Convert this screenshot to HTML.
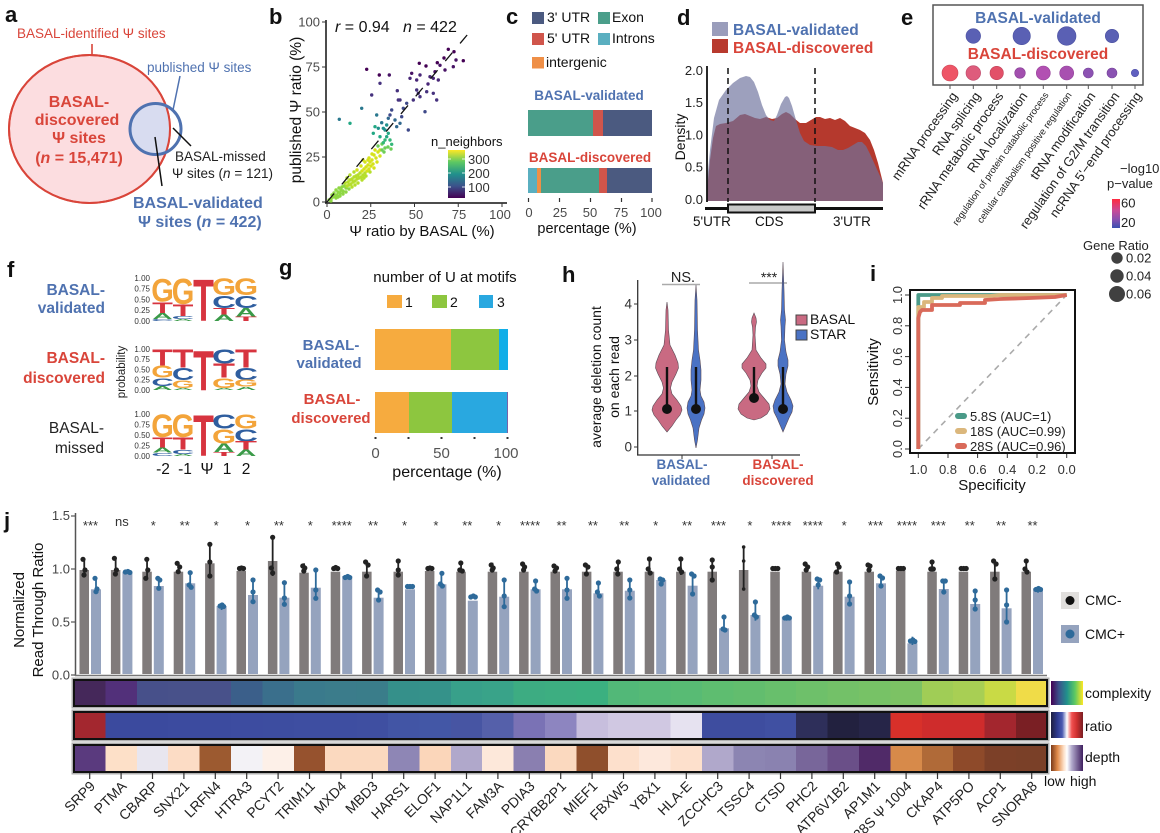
<!DOCTYPE html>
<html><head><meta charset="utf-8">
<style>
html,body{margin:0;padding:0;background:#fff;}
svg{display:block;font-family:"Liberation Sans",Arial,sans-serif;}
.L{font-size:100px;font-weight:bold;text-anchor:middle;}
.cG{fill:#f3a43a}.cT{fill:#d7343f}.cC{fill:#2f5e9f}.cA{fill:#3a9a48}
.pl{font-size:22px;font-weight:bold;fill:#111}
.tk{font-size:13px;fill:#4a4a4a}
.red{fill:#d9453a}.blu{fill:#4f72b0}
.gb{fill:#807b7b}.bb{fill:#95a3be}
.eg{stroke:#222;stroke-width:1.8}.ebl{stroke:#2e6a9a;stroke-width:1.8}
.dg{fill:#222}.db{fill:#2e6a9a}
.sig{font-size:13px;fill:#333;text-anchor:middle}
.gn{font-size:14px;fill:#222;text-anchor:end}
.lt{font-size:8px;fill:#333;text-anchor:end}
</style></head><body>
<svg width="1160" height="833" viewBox="0 0 1160 833" xmlns="http://www.w3.org/2000/svg">
<defs>
<clipPath id="redclip"><ellipse cx="89.5" cy="129" rx="80.5" ry="74"/></clipPath>
<linearGradient id="vir" x1="0" y1="1" x2="0" y2="0">
<stop offset="0" stop-color="#440154"/><stop offset="0.25" stop-color="#3b528b"/><stop offset="0.5" stop-color="#21918c"/><stop offset="0.75" stop-color="#5ec962"/><stop offset="1" stop-color="#fde725"/></linearGradient>
<linearGradient id="virh" x1="0" y1="0" x2="1" y2="0">
<stop offset="0" stop-color="#440154"/><stop offset="0.25" stop-color="#3b528b"/><stop offset="0.5" stop-color="#21918c"/><stop offset="0.75" stop-color="#5ec962"/><stop offset="1" stop-color="#fde725"/></linearGradient>
<linearGradient id="pv" x1="0" y1="0" x2="0" y2="1">
<stop offset="0" stop-color="#ff2a40"/><stop offset="0.4" stop-color="#c84a98"/><stop offset="0.7" stop-color="#8a50b0"/><stop offset="1" stop-color="#3a50b0"/></linearGradient>
<linearGradient id="ratg" x1="0" y1="0" x2="1" y2="0">
<stop offset="0" stop-color="#1f1f40"/><stop offset="0.2" stop-color="#2e3a90"/><stop offset="0.35" stop-color="#4a5ab0"/><stop offset="0.5" stop-color="#ffffff"/><stop offset="0.65" stop-color="#f05050"/><stop offset="0.8" stop-color="#d03030"/><stop offset="1" stop-color="#7a1f24"/></linearGradient>
<linearGradient id="depg" x1="0" y1="0" x2="1" y2="0">
<stop offset="0" stop-color="#7a3a1a"/><stop offset="0.2" stop-color="#e08a4a"/><stop offset="0.4" stop-color="#fde0c8"/><stop offset="0.5" stop-color="#ffffff"/><stop offset="0.65" stop-color="#b0a8cb"/><stop offset="1" stop-color="#3f1f5f"/></linearGradient>
</defs>
<rect width="1160" height="833" fill="#fff"/>

<!-- ================= PANEL A ================= -->
<text class="pl" x="5" y="22">a</text>
<text x="17" y="38" font-size="13.5" class="red">BASAL-identified Ψ sites</text>
<line x1="92" y1="44" x2="92" y2="55" stroke="#d9453a" stroke-width="1.6"/>
<ellipse cx="89.5" cy="129" rx="80.5" ry="74" fill="#fcdde0" stroke="#d9453a" stroke-width="2"/>
<circle cx="155.5" cy="129" r="25.5" fill="#d8dcf0" clip-path="url(#redclip)"/>
<ellipse cx="89.5" cy="129" rx="80.5" ry="74" fill="none" stroke="#d9453a" stroke-width="2"/>
<circle cx="155.5" cy="129" r="25.5" fill="none" stroke="#4f72b0" stroke-width="3"/>
<text x="147" y="72" font-size="13.5" class="blu">published Ψ sites</text>
<line x1="180" y1="76" x2="173" y2="110" stroke="#4f72b0" stroke-width="1.5"/>
<g font-size="16" font-weight="bold" class="red" text-anchor="middle">
<text x="79" y="107">BASAL-</text>
<text x="77" y="125">discovered</text>
<text x="79" y="143">Ψ sites</text>
<text x="79" y="163">(<tspan font-style="italic">n</tspan> = 15,471)</text>
</g>
<line x1="173" y1="128" x2="191" y2="146" stroke="#111" stroke-width="1.5"/>
<text x="175" y="161" font-size="13.5" fill="#222">BASAL-missed</text>
<text x="172" y="178" font-size="13.5" fill="#222">Ψ sites (<tspan font-style="italic">n</tspan> = 121)</text>
<line x1="155" y1="137" x2="162" y2="186" stroke="#111" stroke-width="1.5"/>
<text x="133" y="208" font-size="16" font-weight="bold" class="blu">BASAL-validated</text>
<text x="138" y="227" font-size="16" font-weight="bold" class="blu">Ψ sites (<tspan font-style="italic">n</tspan> = 422)</text>

<!-- ================= PANEL B ================= -->
<text class="pl" x="269" y="24">b</text>
<line x1="326" y1="20" x2="326" y2="203.5" stroke="#111" stroke-width="1.5"/>
<line x1="325" y1="203" x2="507" y2="203" stroke="#111" stroke-width="1.5"/>
<g class="tk" text-anchor="end">
<text x="320" y="26.5">100</text><text x="320" y="71.5">75</text><text x="320" y="116.5">50</text><text x="320" y="161.5">25</text><text x="320" y="206.5">0</text>
</g>
<g stroke="#333" stroke-width="1"><line x1="322" y1="22" x2="326" y2="22"/><line x1="322" y1="67" x2="326" y2="67"/><line x1="322" y1="112" x2="326" y2="112"/><line x1="322" y1="157" x2="326" y2="157"/><line x1="322" y1="202" x2="326" y2="202"/>
<line x1="327" y1="203" x2="327" y2="207"/><line x1="370.75" y1="203" x2="370.75" y2="207"/><line x1="414.5" y1="203" x2="414.5" y2="207"/><line x1="458.25" y1="203" x2="458.25" y2="207"/><line x1="502" y1="203" x2="502" y2="207"/></g>
<g class="tk" text-anchor="middle">
<text x="327" y="219">0</text><text x="369" y="219">25</text><text x="416" y="219">50</text><text x="459" y="219">75</text><text x="500" y="219">100</text>
</g>
<text transform="translate(301,110) rotate(-90)" text-anchor="middle" font-size="15.5" fill="#111">published Ψ ratio (%)</text>
<text x="422" y="236" text-anchor="middle" font-size="15" fill="#111">Ψ ratio by BASAL (%)</text>
<text x="335" y="32" font-size="16" fill="#111"><tspan font-style="italic">r</tspan> = 0.94</text>
<text x="403" y="32" font-size="16" fill="#111"><tspan font-style="italic">n</tspan> = 422</text>
<!-- scatter points -->
<g>
<g fill="#8fd744">
<circle cx="331" cy="199" r="1.7"/><circle cx="333" cy="197" r="1.7"/><circle cx="335" cy="196" r="1.7"/><circle cx="334" cy="193" r="1.7"/><circle cx="337" cy="195" r="1.7"/><circle cx="338" cy="192" r="1.7"/><circle cx="336" cy="190" r="1.7"/><circle cx="340" cy="193" r="1.7"/><circle cx="341" cy="190" r="1.7"/><circle cx="339" cy="188" r="1.7"/><circle cx="343" cy="191" r="1.7"/><circle cx="342" cy="187" r="1.7"/><circle cx="346" cy="188" r="1.7"/><circle cx="349" cy="189" r="1.7"/><circle cx="346" cy="192" r="1.7"/><circle cx="340" cy="196" r="1.7"/><circle cx="343" cy="194" r="1.7"/><circle cx="331" cy="201" r="1.7"/><circle cx="329" cy="200" r="1.7"/><circle cx="344" cy="186" r="1.7"/><circle cx="336" cy="198" r="1.7"/><circle cx="338" cy="197" r="1.7"/><circle cx="332" cy="195" r="1.7"/>
</g>
<g fill="#b5de2b">
<circle cx="345" cy="183" r="1.7"/><circle cx="347" cy="186" r="1.7"/><circle cx="348" cy="182" r="1.7"/><circle cx="349" cy="185" r="1.7"/><circle cx="350" cy="180" r="1.7"/><circle cx="351" cy="184" r="1.7"/><circle cx="352" cy="179" r="1.7"/><circle cx="353" cy="182" r="1.7"/><circle cx="354" cy="177" r="1.7"/><circle cx="355" cy="181" r="1.7"/><circle cx="356" cy="176" r="1.7"/><circle cx="357" cy="179" r="1.7"/><circle cx="358" cy="175" r="1.7"/><circle cx="359" cy="178" r="1.7"/><circle cx="361" cy="177" r="1.7"/><circle cx="362" cy="180" r="1.7"/><circle cx="358" cy="183" r="1.7"/><circle cx="364" cy="178" r="1.7"/><circle cx="350" cy="175" r="1.7"/><circle cx="347" cy="178" r="1.7"/><circle cx="354" cy="172" r="1.7"/><circle cx="363" cy="175" r="1.7"/><circle cx="366" cy="176" r="1.7"/><circle cx="370" cy="172" r="1.7"/><circle cx="360" cy="173" r="1.7"/><circle cx="365" cy="173" r="1.7"/><circle cx="352" cy="187" r="1.7"/><circle cx="355" cy="185" r="1.7"/>
</g>
<g fill="#d5e21a">
<circle cx="362" cy="171" r="1.7"/><circle cx="364" cy="169" r="1.7"/><circle cx="366" cy="167" r="1.7"/><circle cx="367" cy="171" r="1.7"/><circle cx="368" cy="165" r="1.7"/><circle cx="369" cy="169" r="1.7"/><circle cx="370" cy="162" r="1.7"/><circle cx="371" cy="166" r="1.7"/><circle cx="372" cy="160" r="1.7"/><circle cx="373" cy="164" r="1.7"/><circle cx="357" cy="170" r="1.7"/><circle cx="361" cy="166" r="1.7"/><circle cx="365" cy="162" r="1.7"/><circle cx="369" cy="158" r="1.7"/><circle cx="374" cy="155" r="1.7"/><circle cx="376" cy="158" r="1.7"/><circle cx="368" cy="160" r="1.7"/><circle cx="374" cy="168" r="1.7"/><circle cx="372" cy="154" r="1.7"/><circle cx="378" cy="152" r="1.7"/><circle cx="380" cy="156" r="1.7"/><circle cx="375" cy="150" r="1.7"/><circle cx="363" cy="160" r="1.7"/><circle cx="377" cy="162" r="1.7"/><circle cx="380" cy="150" r="1.7"/>
</g>
<g fill="#6ece58">
<circle cx="382" cy="150" r="1.7"/><circle cx="385" cy="148" r="1.7"/><circle cx="378" cy="146" r="1.7"/><circle cx="382" cy="144" r="1.7"/><circle cx="388" cy="147" r="1.7"/><circle cx="391" cy="149" r="1.7"/><circle cx="384" cy="152" r="1.7"/>
</g>
<g>
<circle cx="376.7" cy="115" r="1.7" fill="#2a788e"/><circle cx="381.7" cy="122.7" r="1.7" fill="#2a788e"/><circle cx="386.7" cy="125" r="1.7" fill="#21918c"/><circle cx="385" cy="130" r="1.7" fill="#21918c"/><circle cx="388.3" cy="133.3" r="1.7" fill="#22a884"/><circle cx="383.3" cy="128.3" r="1.7" fill="#21918c"/><circle cx="378.3" cy="128.3" r="1.7" fill="#21918c"/><circle cx="375" cy="126.7" r="1.7" fill="#22a884"/><circle cx="380" cy="136.7" r="1.7" fill="#22a884"/><circle cx="386.7" cy="136.7" r="1.7" fill="#22a884"/><circle cx="391.7" cy="144.3" r="1.7" fill="#35b779"/><circle cx="385" cy="140" r="1.7" fill="#35b779"/><circle cx="373.3" cy="133.3" r="1.7" fill="#22a884"/><circle cx="390" cy="140" r="1.7" fill="#35b779"/><circle cx="383.3" cy="142.7" r="1.7" fill="#35b779"/><circle cx="339.3" cy="119.3" r="1.7" fill="#2a788e"/><circle cx="350" cy="123.3" r="1.7" fill="#22a884"/><circle cx="361.7" cy="108.3" r="1.7" fill="#2a788e"/>
</g>
<g fill="#46327e">
<circle cx="366.7" cy="69.3" r="1.7" fill="#440154"/><circle cx="379.3" cy="75" r="1.7" fill="#440154"/><circle cx="389.3" cy="75" r="1.7" fill="#471365"/><circle cx="380" cy="83.3" r="1.7"/><circle cx="419.3" cy="63.3" r="1.7" fill="#440154"/><circle cx="426" cy="66" r="1.7" fill="#440154"/><circle cx="437.3" cy="62.7" r="1.7" fill="#440154"/><circle cx="440" cy="65.3" r="1.7" fill="#471365"/><circle cx="448.3" cy="49.3" r="1.7" fill="#440154"/><circle cx="454" cy="51.7" r="1.7" fill="#440154"/><circle cx="456" cy="60" r="1.7" fill="#471365"/><circle cx="463.3" cy="60.7" r="1.7" fill="#440154"/><circle cx="453.3" cy="66.7" r="1.7" fill="#471365"/><circle cx="445" cy="70" r="1.7" fill="#471365"/><circle cx="435" cy="71.7" r="1.7" fill="#471365"/><circle cx="438.3" cy="80" r="1.7" fill="#482677"/><circle cx="433.3" cy="78.3" r="1.7" fill="#482677"/><circle cx="430" cy="76.7" r="1.7" fill="#482677"/><circle cx="420" cy="75" r="1.7" fill="#482677"/><circle cx="416.7" cy="80" r="1.7" fill="#482677"/><circle cx="411.7" cy="73.3" r="1.7" fill="#471365"/><circle cx="410" cy="78.3" r="1.7" fill="#482677"/><circle cx="418.3" cy="93.3" r="1.7"/><circle cx="420" cy="96.7" r="1.7"/><circle cx="426.7" cy="91.7" r="1.7"/><circle cx="433.3" cy="93.3" r="1.7"/><circle cx="436.7" cy="100" r="1.7"/><circle cx="397.3" cy="90.7" r="1.7"/><circle cx="371.7" cy="95" r="1.7"/><circle cx="400" cy="100" r="1.7"/><circle cx="406.7" cy="103.3" r="1.7" fill="#3e4989"/><circle cx="413.3" cy="100" r="1.7"/><circle cx="416.7" cy="90" r="1.7"/><circle cx="425" cy="111.7" r="1.7" fill="#3e4989"/><circle cx="401.7" cy="116.7" r="1.7" fill="#3e4989"/><circle cx="391.7" cy="110" r="1.7" fill="#3e4989"/><circle cx="390" cy="115" r="1.7" fill="#3e4989"/><circle cx="395" cy="120" r="1.7" fill="#31688e"/><circle cx="408.3" cy="130" r="1.7" fill="#3e4989"/><circle cx="403.3" cy="108.3" r="1.7" fill="#3e4989"/><circle cx="398.3" cy="100" r="1.7"/><circle cx="388.3" cy="118.3" r="1.7" fill="#31688e"/><circle cx="396.7" cy="126.7" r="1.7" fill="#31688e"/><circle cx="400" cy="123.3" r="1.7" fill="#31688e"/><circle cx="428" cy="84" r="1.7" fill="#482677"/><circle cx="444" cy="58" r="1.7" fill="#440154"/>
</g>
</g>
<line x1="327" y1="202" x2="473" y2="28" stroke="#111" stroke-width="1.3" stroke-dasharray="11,12"/>
<text x="431" y="146" font-size="13" fill="#111">n_neighbors</text>
<rect x="448" y="150" width="17" height="48" fill="url(#vir)"/>
<g stroke="#fff" stroke-width="1" opacity="0.8"><line x1="448" y1="159" x2="451" y2="159"/><line x1="462" y1="159" x2="465" y2="159"/><line x1="448" y1="173" x2="451" y2="173"/><line x1="462" y1="173" x2="465" y2="173"/><line x1="448" y1="187" x2="451" y2="187"/><line x1="462" y1="187" x2="465" y2="187"/></g>
<g font-size="13" fill="#333"><text x="468" y="164">300</text><text x="468" y="178">200</text><text x="468" y="192">100</text></g>

<!-- ================= PANEL C ================= -->
<text class="pl" x="506" y="24">c</text>
<g font-size="14" fill="#111">
<rect x="532" y="12" width="12" height="12" fill="#4b5a80"/><text x="547" y="22">3' UTR</text>
<rect x="598" y="12" width="12" height="12" fill="#4a9e8a"/><text x="612" y="22">Exon</text>
<rect x="532" y="33" width="12" height="12" fill="#d0554b"/><text x="547" y="43">5' UTR</text>
<rect x="598" y="33" width="12" height="12" fill="#5aafc0"/><text x="612" y="43">Introns</text>
<rect x="532" y="57" width="12" height="11.5" fill="#ef8f47"/><text x="546" y="67">intergenic</text>
</g>
<text x="589" y="100" text-anchor="middle" font-size="13.5" font-weight="bold" class="blu">BASAL-validated</text>
<rect x="528" y="110" width="65" height="26" fill="#4a9e8a"/>
<rect x="593" y="110" width="10" height="26" fill="#d0554b"/>
<rect x="603" y="110" width="49" height="26" fill="#4b5a80"/>
<text x="590" y="162" text-anchor="middle" font-size="13.5" font-weight="bold" class="red">BASAL-discovered</text>
<rect x="528" y="168" width="9" height="25" fill="#5aafc0"/>
<rect x="537" y="168" width="4" height="25" fill="#ef8f47"/>
<rect x="541" y="168" width="58" height="25" fill="#4a9e8a"/>
<rect x="599" y="168" width="8" height="25" fill="#d0554b"/>
<rect x="607" y="168" width="45" height="25" fill="#4b5a80"/>
<g stroke="#333" stroke-width="1.2"><line x1="528.5" y1="198" x2="528.5" y2="202"/><line x1="559.5" y1="198" x2="559.5" y2="202"/><line x1="590.5" y1="198" x2="590.5" y2="202"/><line x1="621.5" y1="198" x2="621.5" y2="202"/><line x1="652" y1="198" x2="652" y2="202"/></g>
<g class="tk" text-anchor="middle"><text x="529" y="217">0</text><text x="560" y="217">25</text><text x="590" y="217">50</text><text x="621" y="217">75</text><text x="651" y="217">100</text></g>
<text x="587" y="233" text-anchor="middle" font-size="14.5" fill="#111">percentage (%)</text>

<!-- ================= PANEL D ================= -->
<text class="pl" x="677" y="25">d</text>
<rect x="712" y="22" width="16" height="14" fill="#9a9dbb"/>
<text x="733" y="35" font-size="15.5" font-weight="bold" class="blu">BASAL-validated</text>
<rect x="712" y="39" width="16" height="14" fill="#b83a2e"/>
<text x="733" y="53" font-size="15.5" font-weight="bold" class="red">BASAL-discovered</text>
<path d="M707,201 L707,190 L710,160 L713,138 L716,126 L720,124 L726,123 L733,121 L740,115 L745,114 L750,116 L755,118 L760,119 L766,117 L772,119 L777,118 L782,114 L786,112 L790,114 L795,119 L800,123 L806,123 L811,120 L816,117 L820,117 L825,119 L830,118 L835,120 L840,118 L845,121 L850,126 L855,128 L860,130 L865,133 L870,140 L874,150 L878,163 L881,175 L883,183 L883,201 Z" fill="#b5392d"/>
<path d="M707,201 L707,182 L710,150 L714,118 L719,100 L726,90 L733,83 L740,78 L746,76 L750,77 L754,82 L758,92 L762,105 L766,115 L770,120 L774,121 L777,115 L781,104 L785,97 L787,96 L789,98 L792,106 L796,120 L800,133 L804,141 L810,145 L817,146 L825,146 L832,147 L838,150 L843,150 L848,148 L853,145 L858,142 L862,142 L866,146 L870,154 L875,165 L880,176 L883,183 L883,201 Z" fill="rgb(111,115,158)" fill-opacity="0.68"/>
<line x1="707" y1="66" x2="707" y2="202" stroke="#111" stroke-width="1.8"/>
<line x1="728" y1="68" x2="728" y2="202" stroke="#111" stroke-width="1.5" stroke-dasharray="6,4"/>
<line x1="815" y1="68" x2="815" y2="202" stroke="#111" stroke-width="1.5" stroke-dasharray="6,4"/>
<g font-size="13" fill="#222" text-anchor="end"><text x="703" y="75">2.0</text><text x="703" y="107">1.5</text><text x="703" y="139.5">1.0</text><text x="703" y="171.5">0.5</text><text x="703" y="204">0.0</text></g>
<text transform="translate(685,137) rotate(-90)" text-anchor="middle" font-size="14" fill="#111">Density</text>
<line x1="705" y1="208.5" x2="883" y2="208.5" stroke="#111" stroke-width="3"/>
<rect x="728" y="204.5" width="87" height="8" fill="#c8c8c8" stroke="#111" stroke-width="2"/>
<g font-size="13.5" fill="#111"><text x="693" y="226">5'UTR</text><text x="755" y="226">CDS</text><text x="833" y="226">3'UTR</text></g>

<!-- ================= PANEL E ================= -->
<text class="pl" x="901" y="25">e</text>
<rect x="933" y="5" width="210" height="80" fill="#fff" stroke="#555" stroke-width="1.5"/>
<text x="1038" y="23" text-anchor="middle" font-size="15.5" font-weight="bold" class="blu">BASAL-validated</text>
<g fill="#5a60b4" stroke="#4a50a0" stroke-width="0.6">
<circle cx="973.3" cy="36" r="7.3"/><circle cx="1021.7" cy="36" r="8.7"/><circle cx="1066.7" cy="36" r="9.3"/><circle cx="1112" cy="36" r="6.7"/></g>
<text x="1038" y="59" text-anchor="middle" font-size="15.5" font-weight="bold" class="red">BASAL-discovered</text>
<g stroke-width="0.6">
<circle cx="950" cy="73" r="8" fill="#ee5566" stroke="#cc4455"/>
<circle cx="973.3" cy="73" r="7.3" fill="#de5c7c" stroke="#bb4466"/>
<circle cx="996.7" cy="73" r="6.7" fill="#e25068" stroke="#c04058"/>
<circle cx="1020" cy="73" r="5.3" fill="#a24fae" stroke="#8a4098"/>
<circle cx="1043.3" cy="73" r="7" fill="#b250b2" stroke="#954098"/>
<circle cx="1066.7" cy="73" r="7" fill="#a850b0" stroke="#904098"/>
<circle cx="1088.3" cy="73" r="5" fill="#8c52b2" stroke="#744098"/>
<circle cx="1112" cy="73" r="5" fill="#8a52b2" stroke="#744098"/>
<circle cx="1135" cy="73" r="3.7" fill="#6060c0" stroke="#5050a8"/>
</g>
<g stroke="#555" stroke-width="1"><line x1="950" y1="85" x2="950" y2="89"/><line x1="973.3" y1="85" x2="973.3" y2="89"/><line x1="996.7" y1="85" x2="996.7" y2="89"/><line x1="1020" y1="85" x2="1020" y2="89"/><line x1="1043.3" y1="85" x2="1043.3" y2="89"/><line x1="1066.7" y1="85" x2="1066.7" y2="89"/><line x1="1088.3" y1="85" x2="1088.3" y2="89"/><line x1="1112" y1="85" x2="1112" y2="89"/><line x1="1135" y1="85" x2="1135" y2="89"/></g>
<g fill="#222" text-anchor="end">
<text transform="translate(958,96) rotate(-55)" font-size="13">mRNA processing</text>
<text transform="translate(981,96) rotate(-55)" font-size="13">RNA splicing</text>
<text transform="translate(1004,96) rotate(-55)" font-size="13">rRNA metabolic process</text>
<text transform="translate(1028,96) rotate(-55)" font-size="13">RNA localization</text>
<text transform="translate(1049,95) rotate(-55)" font-size="9.5">regulation of protein catabolic process</text>
<text transform="translate(1072,95) rotate(-55)" font-size="9.5">cellular catabolism positive regulation</text>
<text transform="translate(1096,96) rotate(-55)" font-size="13">tRNA modification</text>
<text transform="translate(1120,96) rotate(-55)" font-size="13">regulation of G2/M transition</text>
<text transform="translate(1142,96) rotate(-55)" font-size="13">ncRNA 5'−end processing</text>
</g>
<g font-size="13" fill="#222">
<text x="1120" y="173">−log10</text>
<text x="1107" y="188">p−value</text>
<rect x="1112" y="199" width="8" height="29" fill="url(#pv)"/>
<text x="1121" y="207.5">60</text><text x="1121" y="227">20</text>
<text x="1083" y="250">Gene Ratio</text>
<circle cx="1117" cy="258" r="5.7" fill="#404040"/><text x="1126" y="262.5">0.02</text>
<circle cx="1117" cy="276" r="6.7" fill="#404040"/><text x="1126" y="280.5">0.04</text>
<circle cx="1117" cy="294" r="8" fill="#404040"/><text x="1126" y="298.5">0.06</text>
</g>

<!-- ================= PANEL F ================= -->
<text class="pl" x="7" y="277">f</text>
<g font-size="15.5" text-anchor="end">
<text x="105" y="295" font-weight="bold" class="blu">BASAL-</text>
<text x="105" y="313" font-weight="bold" class="blu">validated</text>
<text x="105" y="363" font-weight="bold" class="red">BASAL-</text>
<text x="105" y="383" font-weight="bold" class="red">discovered</text>
<text x="104" y="433" fill="#222">BASAL-</text>
<text x="104" y="453" fill="#222">missed</text>
</g>
<g class="lt">
<text x="150" y="281">1.00</text><text x="150" y="291.7">0.75</text><text x="150" y="302.5">0.50</text><text x="150" y="313.2">0.25</text><text x="150" y="324">0.00</text>
<text x="150" y="352">1.00</text><text x="150" y="362.2">0.75</text><text x="150" y="372.5">0.50</text><text x="150" y="382.7">0.25</text><text x="150" y="393">0.00</text>
<text x="150" y="417">1.00</text><text x="150" y="427.5">0.75</text><text x="150" y="438">0.50</text><text x="150" y="448.5">0.25</text><text x="150" y="459">0.00</text>
</g>
<text transform="translate(125,372) rotate(-90)" text-anchor="middle" font-size="11.5" fill="#222">probability</text>
<!-- validated logo -->
<g>
<text class="L cG" transform="translate(162.5,301.6) scale(0.29,0.328)">G</text>
<text class="L cT" transform="translate(162.5,313.3) scale(0.34,0.161)">T</text>
<text class="L cA" transform="translate(162.5,318.9) scale(0.28,0.078)">A</text>
<text class="L cC" transform="translate(162.5,321) scale(0.31,0.030)">C</text>
<text class="L cG" transform="translate(183,303.8) scale(0.29,0.358)">G</text>
<text class="L cT" transform="translate(183,315.8) scale(0.34,0.167)">T</text>
<text class="L cC" transform="translate(183,318.9) scale(0.31,0.042)">C</text>
<text class="L cA" transform="translate(183,321) scale(0.28,0.030)">A</text>
<text class="L cT" transform="translate(203.5,321) scale(0.34,0.597)">T</text>
<text class="L cG" transform="translate(224,295.2) scale(0.31,0.239)">G</text>
<text class="L cC" transform="translate(224,308.1) scale(0.33,0.179)">C</text>
<text class="L cT" transform="translate(224,314.6) scale(0.36,0.090)">T</text>
<text class="L cA" transform="translate(224,321) scale(0.29,0.090)">A</text>
<text class="L cG" transform="translate(246,295.2) scale(0.31,0.239)">G</text>
<text class="L cC" transform="translate(246,308.1) scale(0.33,0.179)">C</text>
<text class="L cA" transform="translate(246,316.7) scale(0.29,0.119)">A</text>
<text class="L cT" transform="translate(246,321) scale(0.36,0.060)">T</text>
</g>
<!-- discovered logo -->
<g>
<text class="L cT" transform="translate(162.5,365.4) scale(0.34,0.228)">T</text>
<text class="L cG" transform="translate(162.5,377.7) scale(0.29,0.171)">G</text>
<text class="L cC" transform="translate(162.5,385.9) scale(0.31,0.114)">C</text>
<text class="L cA" transform="translate(162.5,390) scale(0.28,0.057)">A</text>
<text class="L cT" transform="translate(183,367.5) scale(0.34,0.256)">T</text>
<text class="L cC" transform="translate(183,379.8) scale(0.31,0.171)">C</text>
<text class="L cG" transform="translate(183,388) scale(0.29,0.114)">G</text>
<text class="L cA" transform="translate(183,390) scale(0.28,0.028)">A</text>
<text class="L cT" transform="translate(203.5,390) scale(0.34,0.569)">T</text>
<text class="L cC" transform="translate(224,363.4) scale(0.33,0.199)">C</text>
<text class="L cT" transform="translate(224,377.7) scale(0.36,0.199)">T</text>
<text class="L cG" transform="translate(224,388) scale(0.31,0.142)">G</text>
<text class="L cA" transform="translate(224,390) scale(0.29,0.028)">A</text>
<text class="L cT" transform="translate(246,367.5) scale(0.36,0.256)">T</text>
<text class="L cC" transform="translate(246,379.8) scale(0.33,0.171)">C</text>
<text class="L cG" transform="translate(246,386.7) scale(0.31,0.097)">G</text>
<text class="L cA" transform="translate(246,390) scale(0.29,0.046)">A</text>
</g>
<!-- missed logo -->
<g>
<text class="L cG" transform="translate(162.5,437.1) scale(0.29,0.321)">G</text>
<text class="L cT" transform="translate(162.5,447.6) scale(0.34,0.146)">T</text>
<text class="L cA" transform="translate(162.5,452.6) scale(0.28,0.070)">A</text>
<text class="L cC" transform="translate(162.5,456) scale(0.31,0.047)">C</text>
<text class="L cG" transform="translate(183,437.1) scale(0.29,0.321)">G</text>
<text class="L cT" transform="translate(183,449.7) scale(0.34,0.175)">T</text>
<text class="L cC" transform="translate(183,453.9) scale(0.31,0.058)">C</text>
<text class="L cA" transform="translate(183,456) scale(0.28,0.029)">A</text>
<text class="L cT" transform="translate(203.5,456) scale(0.34,0.583)">T</text>
<text class="L cC" transform="translate(224,428.7) scale(0.33,0.204)">C</text>
<text class="L cG" transform="translate(224,443.4) scale(0.31,0.204)">G</text>
<text class="L cA" transform="translate(224,451.8) scale(0.29,0.117)">A</text>
<text class="L cT" transform="translate(224,456) scale(0.36,0.058)">T</text>
<text class="L cG" transform="translate(246,428.7) scale(0.31,0.204)">G</text>
<text class="L cC" transform="translate(246,441.3) scale(0.33,0.175)">C</text>
<text class="L cT" transform="translate(246,449.7) scale(0.36,0.117)">T</text>
<text class="L cA" transform="translate(246,456) scale(0.29,0.088)">A</text>
</g>
<g font-size="15.5" fill="#111" text-anchor="middle"><text x="163" y="474">-2</text><text x="185" y="474">-1</text><text x="207" y="474">Ψ</text><text x="227" y="474">1</text><text x="246" y="474">2</text></g>

<!-- ================= PANEL G ================= -->
<text class="pl" x="279" y="275">g</text>
<text x="445" y="282" text-anchor="middle" font-size="15" fill="#111">number of U at motifs</text>
<g font-size="14" fill="#111">
<rect x="387" y="295" width="15" height="13" fill="#f6ab3f"/><text x="405" y="307">1</text>
<rect x="432" y="295" width="15" height="13" fill="#8dc63f"/><text x="450" y="307">2</text>
<rect x="479" y="295" width="14" height="13" fill="#29a8e0"/><text x="497" y="307">3</text>
</g>
<g font-size="15" font-weight="bold" text-anchor="middle">
<text x="331" y="350" class="blu">BASAL-</text><text x="329" y="368" class="blu">validated</text>
<text x="332" y="404" class="red">BASAL-</text><text x="331" y="423" class="red">discovered</text>
</g>
<rect x="375" y="329" width="76" height="41" fill="#f6ab3f"/>
<rect x="451" y="329" width="48" height="41" fill="#8dc63f"/>
<rect x="499" y="329" width="9" height="41" fill="#10aee8"/>
<rect x="375" y="392" width="34" height="41" fill="#f6ab3f"/>
<rect x="409" y="392" width="43" height="41" fill="#8dc63f"/>
<rect x="452" y="392" width="55.5" height="41" fill="#29a8e0"/>
<rect x="507" y="392" width="1" height="41" fill="#7a62a8"/>
<g fill="#333"><rect x="374.5" y="437" width="2" height="2"/><rect x="407.5" y="437" width="2" height="2"/><rect x="440.5" y="437" width="2" height="2"/><rect x="473.5" y="437" width="2" height="2"/><rect x="506.5" y="437" width="2" height="2"/></g>
<g font-size="15" fill="#555" text-anchor="middle"><text x="375.5" y="458">0</text><text x="441.5" y="458">50</text><text x="506" y="458">100</text></g>
<text x="447" y="477" text-anchor="middle" font-size="16" fill="#111">percentage (%)</text>

<!-- ================= PANEL H ================= -->
<text class="pl" x="562" y="282">h</text>
<text transform="translate(601,377) rotate(-90)" text-anchor="middle" font-size="14" fill="#111">average deletion count</text>
<text transform="translate(619,377) rotate(-90)" text-anchor="middle" font-size="14" fill="#111">on each read</text>
<line x1="637.7" y1="280" x2="637.7" y2="455" stroke="#333" stroke-width="1.3"/>
<line x1="637" y1="455" x2="800" y2="455" stroke="#333" stroke-width="1.3"/>
<g stroke="#333" stroke-width="1"><line x1="634" y1="304" x2="638" y2="304"/><line x1="634" y1="340" x2="638" y2="340"/><line x1="634" y1="376" x2="638" y2="376"/><line x1="634" y1="411" x2="638" y2="411"/><line x1="634" y1="447" x2="638" y2="447"/><line x1="682" y1="455" x2="682" y2="459"/><line x1="772" y1="455" x2="772" y2="459"/></g>
<g font-size="13.5" fill="#333" text-anchor="end"><text x="632" y="308.5">4</text><text x="632" y="344.5">3</text><text x="632" y="380.5">2</text><text x="632" y="415.5">1</text><text x="632" y="451.5">0</text></g>
<line x1="662" y1="284.5" x2="700" y2="284.5" stroke="#aaa" stroke-width="1.6"/>
<text x="683" y="282" text-anchor="middle" font-size="14.5" fill="#222">NS.</text>
<line x1="749" y1="283" x2="787" y2="283" stroke="#aaa" stroke-width="1.6"/>
<text x="769" y="282" text-anchor="middle" font-size="14" fill="#222">***</text>
<!-- violins -->
<g stroke="#5a4a55" stroke-width="0.6">
<path fill="#c96a82" d="M667,302 L668,310 L668.5,330 L670,345 L675,355 L678,363 L678.5,368 L676,374 L672,382 L670.5,388 L672,394 L677,400 L681,406 L682,410 L680,415 L676,420 L672,426 L667,432 L662,426 L658,420 L654,415 L652,410 L653,406 L657,400 L662,394 L663.5,388 L662,382 L658,374 L655.5,368 L656,363 L659,355 L664,345 L665.5,330 L666,310 Z"/>
<path fill="#4a72c4" d="M696,285 L697,300 L697.5,330 L698.5,350 L700,360 L701,370 L701,380 L700,390 L701,396 L704,402 L705,408 L704,414 L701.5,420 L699,428 L697.5,440 L696,448 L694.5,440 L693,428 L690.5,420 L688,414 L687,408 L688,402 L691,396 L692,390 L691,380 L691,370 L692,360 L693.5,350 L694.5,330 L695,300 Z"/>
<path fill="#c96a82" d="M754,313 L756,318 L756.5,322 L755.5,327 L755,335 L756,350 L761,358 L766,364 L766,368 L762,373 L758,380 L757,386 L759,392 L764,398 L769,404 L770,409 L767,414 L761,418 L754,420 L747,418 L741,414 L738,409 L739,404 L744,398 L749,392 L751,386 L750,380 L746,373 L742,368 L742,364 L747,358 L752,350 L753,335 L752.5,327 L751.5,322 L752,318 Z"/>
<path fill="#4a72c4" d="M783,262 L784,290 L784.5,310 L785.5,320 L785,326 L784.5,340 L786,352 L788,360 L788,366 L786,374 L785,384 L787,392 L791,400 L793,406 L792,412 L789,418 L786,425 L783,432 L780,425 L777,418 L774,412 L773,406 L775,400 L779,392 L781,384 L780,374 L778,366 L778,360 L780,352 L781.5,340 L781,326 L780.5,320 L781.5,310 L782,290 Z"/>
</g>
<g stroke="#111" stroke-width="2.4"><line x1="667" y1="367" x2="667" y2="409"/><line x1="696" y1="367" x2="696" y2="409"/><line x1="754" y1="367" x2="754" y2="398"/><line x1="783" y1="367" x2="783" y2="409"/></g>
<g fill="#111"><circle cx="667" cy="409" r="5"/><circle cx="696" cy="409" r="5"/><circle cx="754" cy="398" r="5"/><circle cx="783" cy="409" r="5"/></g>
<rect x="796" y="315" width="11" height="10" fill="#c96a82" stroke="#444" stroke-width="1"/>
<text x="810" y="324" font-size="14" fill="#111">BASAL</text>
<rect x="796" y="330" width="11" height="10" fill="#4a72c4" stroke="#444" stroke-width="1"/>
<text x="810" y="339" font-size="14" fill="#111">STAR</text>
<g font-size="13.5" font-weight="bold" text-anchor="middle">
<text x="682" y="469" class="blu">BASAL-</text><text x="681" y="485" class="blu">validated</text>
<text x="778" y="469" class="red">BASAL-</text><text x="778" y="485" class="red">discovered</text>
</g>

<!-- ================= PANEL I ================= -->
<text class="pl" x="870" y="281">i</text>
<text transform="translate(878,372) rotate(-90)" text-anchor="middle" font-size="15" fill="#111">Sensitivity</text>
<g font-size="13" fill="#333" text-anchor="middle">
<text transform="translate(902,449) rotate(-90)">0.0</text>
<text transform="translate(902,418.2) rotate(-90)">0.2</text>
<text transform="translate(902,387.4) rotate(-90)">0.4</text>
<text transform="translate(902,356.6) rotate(-90)">0.6</text>
<text transform="translate(902,325.8) rotate(-90)">0.8</text>
<text transform="translate(902,295) rotate(-90)">1.0</text>
</g>
<g stroke="#333" stroke-width="1"><line x1="905" y1="449" x2="909" y2="449"/><line x1="905" y1="418.2" x2="909" y2="418.2"/><line x1="905" y1="387.4" x2="909" y2="387.4"/><line x1="905" y1="356.6" x2="909" y2="356.6"/><line x1="905" y1="325.8" x2="909" y2="325.8"/><line x1="905" y1="295" x2="909" y2="295"/>
<line x1="918.3" y1="454" x2="918.3" y2="458"/><line x1="948" y1="454" x2="948" y2="458"/><line x1="977.6" y1="454" x2="977.6" y2="458"/><line x1="1007.3" y1="454" x2="1007.3" y2="458"/><line x1="1037" y1="454" x2="1037" y2="458"/><line x1="1066.7" y1="454" x2="1066.7" y2="458"/></g>
<g font-size="13" fill="#333" text-anchor="middle"><text x="918.3" y="474">1.0</text><text x="948" y="474">0.8</text><text x="977.6" y="474">0.6</text><text x="1007.3" y="474">0.4</text><text x="1037" y="474">0.2</text><text x="1066.7" y="474">0.0</text></g>
<text x="992" y="490" text-anchor="middle" font-size="15" fill="#111">Specificity</text>
<line x1="918.3" y1="449" x2="1066.7" y2="295" stroke="#aaa" stroke-width="1.6" stroke-dasharray="6,5"/>
<g fill="none" stroke-width="3.8" stroke-linejoin="round">
<path d="M918.3,449 L918.3,295 L1066.7,295" stroke="#4a9a88"/>
<path d="M918.3,449 L918.3,307 L924,307 L924,302 L932,302 L932,298 L942,298 L942,296 L990,296 L1000,295 L1066.7,295" stroke="#dbb77c"/>
<path d="M918.3,449 L918.3,318 L920,312 L922,310 L932,310 L932,305 L960,305 L960,303 L985,303 L985,300 L1000,299 L1030,298 L1055,297 L1066.7,295" stroke="#d96a5a"/>
</g>
<rect x="910" y="290" width="165" height="163" fill="none" stroke="#111" stroke-width="2"/>
<g stroke-width="6" stroke-linecap="round"><line x1="958" y1="416" x2="964" y2="416" stroke="#4a9a88"/><line x1="958" y1="431" x2="964" y2="431" stroke="#dbb77c"/><line x1="958" y1="446" x2="964" y2="446" stroke="#d96a5a"/></g>
<g font-size="13" fill="#222"><text x="970" y="421">5.8S (AUC=1)</text><text x="970" y="436">18S (AUC=0.99)</text><text x="970" y="451">28S (AUC=0.96)</text></g>

<!-- ================= PANEL J ================= -->
<text class="pl" x="4" y="528">j</text>
<text transform="translate(24,610) rotate(-90)" text-anchor="middle" font-size="15" fill="#111">Normalized</text>
<text transform="translate(43,610) rotate(-90)" text-anchor="middle" font-size="15" fill="#111">Read Through Ratio</text>
<g font-size="13" fill="#444" text-anchor="end"><text x="70" y="520">1.5</text><text x="70" y="573.5">1.0</text><text x="70" y="626.5">0.5</text><text x="70" y="679.5">0.0</text></g>
<line x1="75.5" y1="513" x2="75.5" y2="676" stroke="#555" stroke-width="1.5"/>
<g stroke="#555" stroke-width="1.2"><line x1="71" y1="516" x2="75" y2="516"/><line x1="71" y1="569" x2="75" y2="569"/><line x1="71" y1="622" x2="75" y2="622"/><line x1="71" y1="675" x2="75" y2="675"/></g>
<line x1="75" y1="675.5" x2="1047" y2="675.5" stroke="#777" stroke-width="1.5"/>

<!-- groups -->
<g transform="translate(0,0)"><rect class="gb" x="79.5" y="570" width="9.5" height="104"/><rect class="bb" x="91" y="589.3" width="10" height="84.7"/><line class="eg" x1="84.25" y1="559.3" x2="84.25" y2="575"/><line class="ebl" x1="96" y1="578.3" x2="96" y2="591.7"/><circle class="dg" cx="83" cy="559.3" r="2.6"/><circle class="dg" cx="85" cy="570" r="2.6"/><circle class="dg" cx="84" cy="575" r="2.6"/><circle class="db" cx="95" cy="578.3" r="2.6"/><circle class="db" cx="97" cy="589" r="2.6"/><circle class="db" cx="96" cy="591.7" r="2.6"/><text class="sig" x="90.5" y="530">***</text></g>
<g transform="translate(31.4,0)"><rect class="gb" x="79.5" y="570" width="9.5" height="104"/><rect class="bb" x="91" y="571.7" width="10" height="102.3"/><line class="eg" x1="84.25" y1="558.3" x2="84.25" y2="574"/><line class="ebl" x1="96" y1="570.7" x2="96" y2="574"/><circle class="dg" cx="83" cy="558.3" r="2.6"/><circle class="dg" cx="85" cy="570" r="2.6"/><circle class="dg" cx="84" cy="574" r="2.6"/><circle class="db" cx="94" cy="572" r="2.6"/><circle class="db" cx="96.5" cy="571.5" r="2.6"/><circle class="db" cx="98.5" cy="572.5" r="2.6"/><text class="sig" x="90.5" y="526">ns</text></g>
<g transform="translate(62.8,0)"><rect class="gb" x="79.5" y="571.7" width="9.5" height="102.3"/><rect class="bb" x="91" y="586" width="10" height="88"/><line class="eg" x1="84.25" y1="559.3" x2="84.25" y2="578.3"/><line class="ebl" x1="96" y1="578.3" x2="96" y2="588.3"/><circle class="dg" cx="84" cy="559.3" r="2.6"/><circle class="dg" cx="85" cy="570" r="2.6"/><circle class="dg" cx="83" cy="578.3" r="2.6"/><circle class="db" cx="95" cy="578.3" r="2.6"/><circle class="db" cx="97" cy="580" r="2.6"/><circle class="db" cx="96" cy="588.3" r="2.6"/><text class="sig" x="90.5" y="530">*</text></g>
<g transform="translate(94.2,0)"><rect class="gb" x="79.5" y="571.7" width="9.5" height="102.3"/><rect class="bb" x="91" y="583.3" width="10" height="90.7"/><line class="eg" x1="84.25" y1="563.3" x2="84.25" y2="571.7"/><line class="ebl" x1="96" y1="572.7" x2="96" y2="587.3"/><circle class="dg" cx="83" cy="563.3" r="2.6"/><circle class="dg" cx="85.5" cy="567" r="2.6"/><circle class="dg" cx="84" cy="571.7" r="2.6"/><circle class="db" cx="96" cy="572.7" r="2.6"/><circle class="db" cx="95" cy="585" r="2.6"/><circle class="db" cx="97" cy="587.3" r="2.6"/><text class="sig" x="90.5" y="530">**</text></g>
<g transform="translate(125.6,0)"><rect class="gb" x="79.5" y="563.3" width="9.5" height="110.7"/><rect class="bb" x="91" y="606" width="10" height="68"/><line class="eg" x1="84.25" y1="544.3" x2="84.25" y2="576"/><line class="ebl" x1="96" y1="604" x2="96" y2="610"/><circle class="dg" cx="84.25" cy="544.3" r="2.6"/><circle class="dg" cx="84.25" cy="562" r="2.6"/><circle class="dg" cx="84.25" cy="576" r="2.6"/><circle class="db" cx="94.5" cy="606" r="2.6"/><circle class="db" cx="96.5" cy="605" r="2.6"/><circle class="db" cx="98" cy="606.5" r="2.6"/><text class="sig" x="90.5" y="530">*</text></g>
<g transform="translate(157,0)"><rect class="gb" x="79.5" y="571" width="9.5" height="103"/><rect class="bb" x="91" y="595" width="10" height="79"/><line class="eg" x1="84.25" y1="566" x2="84.25" y2="570.7"/><line class="ebl" x1="96" y1="580" x2="96" y2="601.7"/><circle class="dg" cx="82.5" cy="568.5" r="2.6"/><circle class="dg" cx="84.5" cy="568" r="2.6"/><circle class="dg" cx="86.5" cy="568.5" r="2.6"/><circle class="db" cx="96" cy="580" r="2.6"/><circle class="db" cx="96" cy="592" r="2.6"/><circle class="db" cx="96" cy="601.7" r="2.6"/><text class="sig" x="90.5" y="530">*</text></g>
<g transform="translate(188.4,0)"><rect class="gb" x="79.5" y="561" width="9.5" height="113"/><rect class="bb" x="91" y="597.7" width="10" height="76.3"/><line class="eg" x1="84.25" y1="537.3" x2="84.25" y2="576"/><line class="ebl" x1="96" y1="582.7" x2="96" y2="604.3"/><circle class="dg" cx="84.25" cy="537.3" r="2.6"/><circle class="dg" cx="83" cy="568" r="2.6"/><circle class="dg" cx="84.25" cy="573" r="2.6"/><circle class="db" cx="96" cy="582.7" r="2.6"/><circle class="db" cx="96" cy="598" r="2.6"/><circle class="db" cx="96" cy="604.3" r="2.6"/><text class="sig" x="90.5" y="530">**</text></g>
<g transform="translate(219.8,0)"><rect class="gb" x="79.5" y="572.7" width="9.5" height="101.3"/><rect class="bb" x="91" y="587.7" width="10" height="86.3"/><line class="eg" x1="84.25" y1="563.3" x2="84.25" y2="571.7"/><line class="ebl" x1="96" y1="570" x2="96" y2="598.3"/><circle class="dg" cx="83" cy="566" r="2.6"/><circle class="dg" cx="85" cy="568" r="2.6"/><circle class="dg" cx="84" cy="571" r="2.6"/><circle class="db" cx="96" cy="570" r="2.6"/><circle class="db" cx="96" cy="590" r="2.6"/><circle class="db" cx="96" cy="598.3" r="2.6"/><text class="sig" x="90.5" y="530">*</text></g>
<g transform="translate(251.2,0)"><rect class="gb" x="79.5" y="571.7" width="9.5" height="102.3"/><rect class="bb" x="91" y="576" width="10" height="98"/><line class="eg" x1="84.25" y1="566" x2="84.25" y2="570.7"/><line class="ebl" x1="96" y1="575" x2="96" y2="579.3"/><circle class="dg" cx="82.5" cy="568.5" r="2.6"/><circle class="dg" cx="84.5" cy="567.5" r="2.6"/><circle class="dg" cx="86.5" cy="568.5" r="2.6"/><circle class="db" cx="94" cy="577.5" r="2.6"/><circle class="db" cx="96.5" cy="576.5" r="2.6"/><circle class="db" cx="98.5" cy="577.5" r="2.6"/><text class="sig" x="90.5" y="530">****</text></g>
<g transform="translate(282.6,0)"><rect class="gb" x="79.5" y="571.7" width="9.5" height="102.3"/><rect class="bb" x="91" y="597.7" width="10" height="76.3"/><line class="eg" x1="84.25" y1="561" x2="84.25" y2="577.3"/><line class="ebl" x1="96" y1="589.3" x2="96" y2="601.7"/><circle class="dg" cx="83" cy="562" r="2.6"/><circle class="dg" cx="85.5" cy="565" r="2.6"/><circle class="dg" cx="84" cy="576" r="2.6"/><circle class="db" cx="95" cy="590" r="2.6"/><circle class="db" cx="97.5" cy="592" r="2.6"/><circle class="db" cx="96" cy="600" r="2.6"/><text class="sig" x="90.5" y="530">**</text></g>
<g transform="translate(314,0)"><rect class="gb" x="79.5" y="571.7" width="9.5" height="102.3"/><rect class="bb" x="91" y="589.3" width="10" height="84.7"/><line class="eg" x1="84.25" y1="561" x2="84.25" y2="575"/><line class="ebl" x1="96" y1="585" x2="96" y2="588.3"/><circle class="dg" cx="84.25" cy="561" r="2.6"/><circle class="dg" cx="84.25" cy="570" r="2.6"/><circle class="dg" cx="84.25" cy="575" r="2.6"/><circle class="db" cx="93.5" cy="586.5" r="2.6"/><circle class="db" cx="96" cy="586.5" r="2.6"/><circle class="db" cx="98.5" cy="586.5" r="2.6"/><text class="sig" x="90.5" y="530">*</text></g>
<g transform="translate(345.4,0)"><rect class="gb" x="79.5" y="571" width="9.5" height="103"/><rect class="bb" x="91" y="584.3" width="10" height="89.7"/><line class="eg" x1="84.25" y1="566" x2="84.25" y2="570.7"/><line class="ebl" x1="96" y1="573.3" x2="96" y2="588.3"/><circle class="dg" cx="82.5" cy="568.5" r="2.6"/><circle class="dg" cx="84.5" cy="568" r="2.6"/><circle class="dg" cx="86.5" cy="568.5" r="2.6"/><circle class="db" cx="96.5" cy="573.3" r="2.6"/><circle class="db" cx="95" cy="584" r="2.6"/><circle class="db" cx="97" cy="586" r="2.6"/><text class="sig" x="90.5" y="530">*</text></g>
<g transform="translate(376.8,0)"><rect class="gb" x="79.5" y="571.7" width="9.5" height="102.3"/><rect class="bb" x="91" y="600.7" width="10" height="73.3"/><line class="eg" x1="84.25" y1="562.7" x2="84.25" y2="572.7"/><line class="ebl" x1="96" y1="595" x2="96" y2="598.3"/><circle class="dg" cx="84" cy="563" r="2.6"/><circle class="dg" cx="83" cy="570" r="2.6"/><circle class="dg" cx="85.5" cy="571" r="2.6"/><circle class="db" cx="94" cy="597" r="2.6"/><circle class="db" cx="96.5" cy="596" r="2.6"/><circle class="db" cx="98.5" cy="597" r="2.6"/><text class="sig" x="90.5" y="530">**</text></g>
<g transform="translate(408.2,0)"><rect class="gb" x="79.5" y="571.7" width="9.5" height="102.3"/><rect class="bb" x="91" y="596.7" width="10" height="77.3"/><line class="eg" x1="84.25" y1="562.7" x2="84.25" y2="570.7"/><line class="ebl" x1="96" y1="580" x2="96" y2="606.7"/><circle class="dg" cx="83" cy="565" r="2.6"/><circle class="dg" cx="85" cy="568" r="2.6"/><circle class="dg" cx="84" cy="570" r="2.6"/><circle class="db" cx="96" cy="580" r="2.6"/><circle class="db" cx="96" cy="596" r="2.6"/><circle class="db" cx="96" cy="606.7" r="2.6"/><text class="sig" x="90.5" y="530">*</text></g>
<g transform="translate(439.6,0)"><rect class="gb" x="79.5" y="571.7" width="9.5" height="102.3"/><rect class="bb" x="91" y="589.3" width="10" height="84.7"/><line class="eg" x1="84.25" y1="563.3" x2="84.25" y2="570"/><line class="ebl" x1="96" y1="580.7" x2="96" y2="593.3"/><circle class="dg" cx="83" cy="564" r="2.6"/><circle class="dg" cx="85" cy="567" r="2.6"/><circle class="dg" cx="84" cy="570" r="2.6"/><circle class="db" cx="96" cy="581" r="2.6"/><circle class="db" cx="95" cy="589" r="2.6"/><circle class="db" cx="97" cy="591" r="2.6"/><text class="sig" x="90.5" y="530">****</text></g>
<g transform="translate(471,0)"><rect class="gb" x="79.5" y="571.7" width="9.5" height="102.3"/><rect class="bb" x="91" y="589.3" width="10" height="84.7"/><line class="eg" x1="84.25" y1="565" x2="84.25" y2="572.7"/><line class="ebl" x1="96" y1="578.3" x2="96" y2="598.3"/><circle class="dg" cx="83" cy="566" r="2.6"/><circle class="dg" cx="85.5" cy="568" r="2.6"/><circle class="dg" cx="84" cy="571" r="2.6"/><circle class="db" cx="96" cy="578.3" r="2.6"/><circle class="db" cx="96" cy="590" r="2.6"/><circle class="db" cx="96" cy="598.3" r="2.6"/><text class="sig" x="90.5" y="530">**</text></g>
<g transform="translate(502.4,0)"><rect class="gb" x="79.5" y="571.7" width="9.5" height="102.3"/><rect class="bb" x="91" y="593.3" width="10" height="80.7"/><line class="eg" x1="84.25" y1="563.3" x2="84.25" y2="575"/><line class="ebl" x1="96" y1="582.7" x2="96" y2="597.3"/><circle class="dg" cx="83" cy="565" r="2.6"/><circle class="dg" cx="85.5" cy="567" r="2.6"/><circle class="dg" cx="84" cy="574" r="2.6"/><circle class="db" cx="96" cy="583" r="2.6"/><circle class="db" cx="95" cy="592" r="2.6"/><circle class="db" cx="97" cy="596" r="2.6"/><text class="sig" x="90.5" y="530">**</text></g>
<g transform="translate(533.8,0)"><rect class="gb" x="79.5" y="571.7" width="9.5" height="102.3"/><rect class="bb" x="91" y="590.7" width="10" height="83.3"/><line class="eg" x1="84.25" y1="561.7" x2="84.25" y2="575"/><line class="ebl" x1="96" y1="579.3" x2="96" y2="599.3"/><circle class="dg" cx="84.5" cy="562" r="2.6"/><circle class="dg" cx="83" cy="569" r="2.6"/><circle class="dg" cx="84" cy="574" r="2.6"/><circle class="db" cx="96" cy="580" r="2.6"/><circle class="db" cx="96" cy="590" r="2.6"/><circle class="db" cx="96" cy="598" r="2.6"/><text class="sig" x="90.5" y="530">**</text></g>
<g transform="translate(565.2,0)"><rect class="gb" x="79.5" y="571.7" width="9.5" height="102.3"/><rect class="bb" x="91" y="580" width="10" height="94"/><line class="eg" x1="84.25" y1="558.3" x2="84.25" y2="575"/><line class="ebl" x1="96" y1="577.3" x2="96" y2="586"/><circle class="dg" cx="84.25" cy="559" r="2.6"/><circle class="dg" cx="83" cy="569" r="2.6"/><circle class="dg" cx="85" cy="573" r="2.6"/><circle class="db" cx="95" cy="579" r="2.6"/><circle class="db" cx="97.5" cy="580" r="2.6"/><circle class="db" cx="96" cy="584" r="2.6"/><text class="sig" x="90.5" y="530">*</text></g>
<g transform="translate(596.6,0)"><rect class="gb" x="79.5" y="571.7" width="9.5" height="102.3"/><rect class="bb" x="91" y="585.7" width="10" height="88.3"/><line class="eg" x1="84.25" y1="558.3" x2="84.25" y2="575"/><line class="ebl" x1="96" y1="572.7" x2="96" y2="596"/><circle class="dg" cx="84.25" cy="559" r="2.6"/><circle class="dg" cx="83" cy="569" r="2.6"/><circle class="dg" cx="85" cy="572" r="2.6"/><circle class="db" cx="95" cy="574" r="2.6"/><circle class="db" cx="97.5" cy="576" r="2.6"/><circle class="db" cx="96" cy="594" r="2.6"/><text class="sig" x="90.5" y="530">**</text></g>
<g transform="translate(628,0)"><rect class="gb" x="79.5" y="571.7" width="9.5" height="102.3"/><rect class="bb" x="91" y="628.3" width="10" height="45.7"/><line class="eg" x1="84.25" y1="559.3" x2="84.25" y2="581.7"/><line class="ebl" x1="96" y1="616.7" x2="96" y2="631.7"/><circle class="dg" cx="84.25" cy="560" r="2.6"/><circle class="dg" cx="84.25" cy="567" r="2.6"/><circle class="dg" cx="84.25" cy="580" r="2.6"/><circle class="db" cx="96" cy="617" r="2.6"/><circle class="db" cx="95" cy="629" r="2.6"/><circle class="db" cx="97" cy="630" r="2.6"/><text class="sig" x="90.5" y="530">***</text></g>
<g transform="translate(659.4,0)"><rect class="gb" x="79.5" y="570" width="9.5" height="104"/><rect class="bb" x="91" y="615" width="10" height="59"/><line class="eg" x1="84.25" y1="546.7" x2="84.25" y2="590.7"/><line class="ebl" x1="96" y1="600.7" x2="96" y2="620.7"/><circle class="dg" cx="84.25" cy="547" r="1.8"/><circle class="dg" cx="84.25" cy="561" r="1.8"/><circle class="dg" cx="84.25" cy="589" r="1.8"/><circle class="db" cx="96" cy="602" r="2.6"/><circle class="db" cx="95" cy="615" r="2.6"/><circle class="db" cx="97" cy="617" r="2.6"/><text class="sig" x="90.5" y="530">*</text></g>
<g transform="translate(690.8,0)"><rect class="gb" x="79.5" y="571.7" width="9.5" height="102.3"/><rect class="bb" x="91" y="616.7" width="10" height="57.3"/><line class="eg" x1="84.25" y1="566.7" x2="84.25" y2="570.7"/><line class="ebl" x1="96" y1="615" x2="96" y2="620.7"/><circle class="dg" cx="82" cy="568.5" r="2.6"/><circle class="dg" cx="84.5" cy="568.5" r="2.6"/><circle class="dg" cx="87" cy="568.5" r="2.6"/><circle class="db" cx="94" cy="618" r="2.6"/><circle class="db" cx="96.5" cy="617" r="2.6"/><circle class="db" cx="98.5" cy="618" r="2.6"/><text class="sig" x="90.5" y="530">****</text></g>
<g transform="translate(722.2,0)"><rect class="gb" x="79.5" y="571.7" width="9.5" height="102.3"/><rect class="bb" x="91" y="585.7" width="10" height="88.3"/><line class="eg" x1="84.25" y1="563.3" x2="84.25" y2="571.7"/><line class="ebl" x1="96" y1="578.3" x2="96" y2="589.3"/><circle class="dg" cx="83" cy="564" r="2.6"/><circle class="dg" cx="85.5" cy="567" r="2.6"/><circle class="dg" cx="84" cy="570" r="2.6"/><circle class="db" cx="95" cy="579" r="2.6"/><circle class="db" cx="97.5" cy="580" r="2.6"/><circle class="db" cx="96" cy="585" r="2.6"/><text class="sig" x="90.5" y="530">****</text></g>
<g transform="translate(753.6,0)"><rect class="gb" x="79.5" y="571.7" width="9.5" height="102.3"/><rect class="bb" x="91" y="596.7" width="10" height="77.3"/><line class="eg" x1="84.25" y1="563.3" x2="84.25" y2="574"/><line class="ebl" x1="96" y1="581.7" x2="96" y2="605"/><circle class="dg" cx="84" cy="564" r="2.6"/><circle class="dg" cx="85.5" cy="567" r="2.6"/><circle class="dg" cx="83" cy="572" r="2.6"/><circle class="db" cx="96" cy="582" r="2.6"/><circle class="db" cx="96" cy="596" r="2.6"/><circle class="db" cx="96" cy="604" r="2.6"/><text class="sig" x="90.5" y="530">*</text></g>
<g transform="translate(785,0)"><rect class="gb" x="79.5" y="571.7" width="9.5" height="102.3"/><rect class="bb" x="91" y="583.3" width="10" height="90.7"/><line class="eg" x1="84.25" y1="564" x2="84.25" y2="571.7"/><line class="ebl" x1="96" y1="575" x2="96" y2="587.3"/><circle class="dg" cx="83" cy="565" r="2.6"/><circle class="dg" cx="85" cy="566" r="2.6"/><circle class="dg" cx="84" cy="570" r="2.6"/><circle class="db" cx="95" cy="576" r="2.6"/><circle class="db" cx="97.5" cy="578" r="2.6"/><circle class="db" cx="96" cy="586" r="2.6"/><text class="sig" x="90.5" y="530">***</text></g>
<g transform="translate(816.4,0)"><rect class="gb" x="79.5" y="570.7" width="9.5" height="103.3"/><rect class="bb" x="91" y="643.3" width="10" height="30.7"/><line class="eg" x1="84.25" y1="566.7" x2="84.25" y2="570.7"/><line class="ebl" x1="96" y1="636.7" x2="96" y2="645"/><circle class="dg" cx="82" cy="568.5" r="2.6"/><circle class="dg" cx="84.5" cy="568.5" r="2.6"/><circle class="dg" cx="87" cy="568.5" r="2.6"/><circle class="db" cx="94" cy="641" r="2.6"/><circle class="db" cx="96.5" cy="640" r="2.6"/><circle class="db" cx="98.5" cy="641.5" r="2.6"/><text class="sig" x="90.5" y="530">****</text></g>
<g transform="translate(847.8,0)"><rect class="gb" x="79.5" y="571.7" width="9.5" height="102.3"/><rect class="bb" x="91" y="589" width="10" height="85"/><line class="eg" x1="84.25" y1="561.7" x2="84.25" y2="571.7"/><line class="ebl" x1="96" y1="580" x2="96" y2="593.3"/><circle class="dg" cx="84.25" cy="562" r="2.6"/><circle class="dg" cx="83" cy="569" r="2.6"/><circle class="dg" cx="85.5" cy="569" r="2.6"/><circle class="db" cx="95" cy="581" r="2.6"/><circle class="db" cx="97.5" cy="581" r="2.6"/><circle class="db" cx="96" cy="592" r="2.6"/><text class="sig" x="90.5" y="530">***</text></g>
<g transform="translate(879.2,0)"><rect class="gb" x="79.5" y="571.7" width="9.5" height="102.3"/><rect class="bb" x="91" y="604" width="10" height="70"/><line class="eg" x1="84.25" y1="566.7" x2="84.25" y2="570"/><line class="ebl" x1="96" y1="590.7" x2="96" y2="610"/><circle class="dg" cx="82" cy="568.5" r="2.6"/><circle class="dg" cx="84.5" cy="568.5" r="2.6"/><circle class="dg" cx="87" cy="568.5" r="2.6"/><circle class="db" cx="96" cy="591" r="2.6"/><circle class="db" cx="96" cy="600" r="2.6"/><circle class="db" cx="96" cy="609" r="2.6"/><text class="sig" x="90.5" y="530">**</text></g>
<g transform="translate(910.6,0)"><rect class="gb" x="79.5" y="571.7" width="9.5" height="102.3"/><rect class="bb" x="91" y="608.3" width="10" height="65.7"/><line class="eg" x1="84.25" y1="560.7" x2="84.25" y2="579.3"/><line class="ebl" x1="96" y1="590" x2="96" y2="623.3"/><circle class="dg" cx="83" cy="561" r="2.6"/><circle class="dg" cx="85.5" cy="564" r="2.6"/><circle class="dg" cx="84.25" cy="579" r="2.6"/><circle class="db" cx="96" cy="590" r="2.6"/><circle class="db" cx="96" cy="605" r="2.6"/><circle class="db" cx="96" cy="622" r="2.6"/><text class="sig" x="90.5" y="530">**</text></g>
<g transform="translate(942,0)"><rect class="gb" x="79.5" y="571.7" width="9.5" height="102.3"/><rect class="bb" x="91" y="588.3" width="10" height="85.7"/><line class="eg" x1="84.25" y1="560" x2="84.25" y2="574"/><line class="ebl" x1="96" y1="587.3" x2="96" y2="592.7"/><circle class="dg" cx="84.25" cy="561" r="2.6"/><circle class="dg" cx="83" cy="569" r="2.6"/><circle class="dg" cx="85" cy="572" r="2.6"/><circle class="db" cx="94" cy="589.5" r="2.6"/><circle class="db" cx="96.5" cy="588.5" r="2.6"/><circle class="db" cx="98.5" cy="589.5" r="2.6"/><text class="sig" x="90.5" y="530">**</text></g>

<!-- CMC legend -->
<rect x="1061" y="592" width="18" height="17" fill="#e1dfdd"/>
<circle cx="1070" cy="600.5" r="4.5" fill="#111"/>
<text x="1085" y="605" font-size="14" fill="#111">CMC-</text>
<rect x="1061" y="625" width="18" height="18" fill="#95a3be"/>
<circle cx="1070" cy="634" r="4.5" fill="#2e6a9a"/>
<text x="1085" y="639" font-size="14" fill="#111">CMC+</text>

<!-- heatmaps -->
<g shape-rendering="crispEdges">
<!-- complexity -->
<rect x="74" y="680" width="31.9" height="26" fill="#45285a"/><rect x="105.4" y="680" width="31.9" height="26" fill="#52307a"/><rect x="136.8" y="680" width="31.9" height="26" fill="#47508a"/><rect x="168.2" y="680" width="31.9" height="26" fill="#48518a"/><rect x="199.6" y="680" width="31.9" height="26" fill="#48518a"/><rect x="231" y="680" width="31.9" height="26" fill="#3b5f8a"/><rect x="262.4" y="680" width="31.9" height="26" fill="#3a6f8c"/><rect x="293.8" y="680" width="31.9" height="26" fill="#3a7a8c"/><rect x="325.2" y="680" width="31.9" height="26" fill="#3b7c8b"/><rect x="356.6" y="680" width="31.9" height="26" fill="#3a7d8a"/><rect x="388" y="680" width="31.9" height="26" fill="#35908a"/><rect x="419.4" y="680" width="31.9" height="26" fill="#35928a"/><rect x="450.8" y="680" width="31.9" height="26" fill="#38a08a"/><rect x="482.2" y="680" width="31.9" height="26" fill="#39a389"/><rect x="513.6" y="680" width="31.9" height="26" fill="#3dac82"/><rect x="545" y="680" width="31.9" height="26" fill="#3dae81"/><rect x="576.4" y="680" width="31.9" height="26" fill="#3bb080"/><rect x="607.8" y="680" width="31.9" height="26" fill="#52b878"/><rect x="639.2" y="680" width="31.9" height="26" fill="#55ba76"/><rect x="670.6" y="680" width="31.9" height="26" fill="#58bb74"/><rect x="702" y="680" width="31.9" height="26" fill="#5ebd70"/><rect x="733.4" y="680" width="31.9" height="26" fill="#62bd6e"/><rect x="764.8" y="680" width="31.9" height="26" fill="#68bf6c"/><rect x="796.2" y="680" width="31.9" height="26" fill="#6ec06a"/><rect x="827.6" y="680" width="31.9" height="26" fill="#73c168"/><rect x="859" y="680" width="31.9" height="26" fill="#77c266"/><rect x="890.4" y="680" width="31.9" height="26" fill="#7cc264"/><rect x="921.8" y="680" width="31.9" height="26" fill="#a0cd56"/><rect x="953.2" y="680" width="31.9" height="26" fill="#a8cf54"/><rect x="984.6" y="680" width="31.9" height="26" fill="#c9da45"/><rect x="1016" y="680" width="31" height="26" fill="#f0dc48"/>
<!-- ratio -->
<rect x="74" y="712" width="31.9" height="27" fill="#a3272f"/><rect x="105.4" y="712" width="31.9" height="27" fill="#3b4a9e"/><rect x="136.8" y="712" width="31.9" height="27" fill="#3b4a9e"/><rect x="168.2" y="712" width="31.9" height="27" fill="#3c4b9f"/><rect x="199.6" y="712" width="31.9" height="27" fill="#3c4b9f"/><rect x="231" y="712" width="31.9" height="27" fill="#3d4ca0"/><rect x="262.4" y="712" width="31.9" height="27" fill="#3d4da0"/><rect x="293.8" y="712" width="31.9" height="27" fill="#3e4ea1"/><rect x="325.2" y="712" width="31.9" height="27" fill="#3e4ea1"/><rect x="356.6" y="712" width="31.9" height="27" fill="#3f4fa1"/><rect x="388" y="712" width="31.9" height="27" fill="#4255a5"/><rect x="419.4" y="712" width="31.9" height="27" fill="#4357a6"/><rect x="450.8" y="712" width="31.9" height="27" fill="#4755a3"/><rect x="482.2" y="712" width="31.9" height="27" fill="#5560aa"/><rect x="513.6" y="712" width="31.9" height="27" fill="#7a72b5"/><rect x="545" y="712" width="31.9" height="27" fill="#8d85c0"/><rect x="576.4" y="712" width="31.9" height="27" fill="#c7bedd"/><rect x="607.8" y="712" width="31.9" height="27" fill="#d0c8e2"/><rect x="639.2" y="712" width="31.9" height="27" fill="#d0c8e2"/><rect x="670.6" y="712" width="31.9" height="27" fill="#e6e2f0"/><rect x="702" y="712" width="31.9" height="27" fill="#3e4d9f"/><rect x="733.4" y="712" width="31.9" height="27" fill="#3e4d9f"/><rect x="764.8" y="712" width="31.9" height="27" fill="#4050a2"/><rect x="796.2" y="712" width="31.9" height="27" fill="#2e2f5a"/><rect x="827.6" y="712" width="31.9" height="27" fill="#22213f"/><rect x="859" y="712" width="31.9" height="27" fill="#262548"/><rect x="890.4" y="712" width="31.9" height="27" fill="#d8302a"/><rect x="921.8" y="712" width="31.9" height="27" fill="#cf2c2c"/><rect x="953.2" y="712" width="31.9" height="27" fill="#cf2c2c"/><rect x="984.6" y="712" width="31.9" height="27" fill="#a3262e"/><rect x="1016" y="712" width="31" height="27" fill="#7a1f24"/>
<!-- depth -->
<rect x="74" y="745" width="31.9" height="27" fill="#5a3a7e"/><rect x="105.4" y="745" width="31.9" height="27" fill="#fde0c8"/><rect x="136.8" y="745" width="31.9" height="27" fill="#e8e6ef"/><rect x="168.2" y="745" width="31.9" height="27" fill="#fcdcc5"/><rect x="199.6" y="745" width="31.9" height="27" fill="#9c5a30"/><rect x="231" y="745" width="31.9" height="27" fill="#f3f2f6"/><rect x="262.4" y="745" width="31.9" height="27" fill="#fdf0e8"/><rect x="293.8" y="745" width="31.9" height="27" fill="#96522e"/><rect x="325.2" y="745" width="31.9" height="27" fill="#fbd9bf"/><rect x="356.6" y="745" width="31.9" height="27" fill="#fbd9bf"/><rect x="388" y="745" width="31.9" height="27" fill="#8e86b5"/><rect x="419.4" y="745" width="31.9" height="27" fill="#fbd6ba"/><rect x="450.8" y="745" width="31.9" height="27" fill="#b0a8cb"/><rect x="482.2" y="745" width="31.9" height="27" fill="#fde8da"/><rect x="513.6" y="745" width="31.9" height="27" fill="#8a7fb0"/><rect x="545" y="745" width="31.9" height="27" fill="#fbd9bf"/><rect x="576.4" y="745" width="31.9" height="27" fill="#8f4f2c"/><rect x="607.8" y="745" width="31.9" height="27" fill="#fde0cc"/><rect x="639.2" y="745" width="31.9" height="27" fill="#fde8dc"/><rect x="670.6" y="745" width="31.9" height="27" fill="#fde0cc"/><rect x="702" y="745" width="31.9" height="27" fill="#b0a8cb"/><rect x="733.4" y="745" width="31.9" height="27" fill="#8c85b2"/><rect x="764.8" y="745" width="31.9" height="27" fill="#8a82b0"/><rect x="796.2" y="745" width="31.9" height="27" fill="#78669a"/><rect x="827.6" y="745" width="31.9" height="27" fill="#6a4f88"/><rect x="859" y="745" width="31.9" height="27" fill="#502a68"/><rect x="890.4" y="745" width="31.9" height="27" fill="#d78a4a"/><rect x="921.8" y="745" width="31.9" height="27" fill="#b06a38"/><rect x="953.2" y="745" width="31.9" height="27" fill="#8e4a2a"/><rect x="984.6" y="745" width="31.9" height="27" fill="#7c4028"/><rect x="1016" y="745" width="31" height="27" fill="#7a4028"/>
</g>
<g fill="none">
<rect x="73" y="679" width="975" height="28" stroke="#b0b0b0" stroke-width="3"/><rect x="74" y="680" width="973" height="26" stroke="#111" stroke-width="2"/>
<rect x="73" y="711" width="975" height="29" stroke="#b0b0b0" stroke-width="3"/><rect x="74" y="712" width="973" height="27" stroke="#111" stroke-width="2"/>
<rect x="73" y="744" width="975" height="29" stroke="#b0b0b0" stroke-width="3"/><rect x="74" y="745" width="973" height="27" stroke="#111" stroke-width="2"/>
</g>
<!-- ticks and gene labels -->
<g stroke="#333" stroke-width="1.2">
<line x1="89.7" y1="773" x2="89.7" y2="779"/><line x1="121.1" y1="773" x2="121.1" y2="779"/><line x1="152.5" y1="773" x2="152.5" y2="779"/><line x1="183.9" y1="773" x2="183.9" y2="779"/><line x1="215.3" y1="773" x2="215.3" y2="779"/><line x1="246.7" y1="773" x2="246.7" y2="779"/><line x1="278.1" y1="773" x2="278.1" y2="779"/><line x1="309.5" y1="773" x2="309.5" y2="779"/><line x1="340.9" y1="773" x2="340.9" y2="779"/><line x1="372.3" y1="773" x2="372.3" y2="779"/><line x1="403.7" y1="773" x2="403.7" y2="779"/><line x1="435.1" y1="773" x2="435.1" y2="779"/><line x1="466.5" y1="773" x2="466.5" y2="779"/><line x1="497.9" y1="773" x2="497.9" y2="779"/><line x1="529.3" y1="773" x2="529.3" y2="779"/><line x1="560.7" y1="773" x2="560.7" y2="779"/><line x1="592.1" y1="773" x2="592.1" y2="779"/><line x1="623.5" y1="773" x2="623.5" y2="779"/><line x1="654.9" y1="773" x2="654.9" y2="779"/><line x1="686.3" y1="773" x2="686.3" y2="779"/><line x1="717.7" y1="773" x2="717.7" y2="779"/><line x1="749.1" y1="773" x2="749.1" y2="779"/><line x1="780.5" y1="773" x2="780.5" y2="779"/><line x1="811.9" y1="773" x2="811.9" y2="779"/><line x1="843.3" y1="773" x2="843.3" y2="779"/><line x1="874.7" y1="773" x2="874.7" y2="779"/><line x1="906.1" y1="773" x2="906.1" y2="779"/><line x1="937.5" y1="773" x2="937.5" y2="779"/><line x1="968.9" y1="773" x2="968.9" y2="779"/><line x1="1000.3" y1="773" x2="1000.3" y2="779"/><line x1="1031.7" y1="773" x2="1031.7" y2="779"/>
</g>
<g class="gn">
<text transform="translate(96,787) rotate(-45)">SRP9</text>
<text transform="translate(127.4,787) rotate(-45)">PTMA</text>
<text transform="translate(158.8,787) rotate(-45)">CBARP</text>
<text transform="translate(190.2,787) rotate(-45)">SNX21</text>
<text transform="translate(221.6,787) rotate(-45)">LRFN4</text>
<text transform="translate(253,787) rotate(-45)">HTRA3</text>
<text transform="translate(284.4,787) rotate(-45)">PCYT2</text>
<text transform="translate(315.8,787) rotate(-45)">TRIM11</text>
<text transform="translate(347.2,787) rotate(-45)">MXD4</text>
<text transform="translate(378.6,787) rotate(-45)">MBD3</text>
<text transform="translate(410,787) rotate(-45)">HARS1</text>
<text transform="translate(441.4,787) rotate(-45)">ELOF1</text>
<text transform="translate(472.8,787) rotate(-45)">NAP1L1</text>
<text transform="translate(504.2,787) rotate(-45)">FAM3A</text>
<text transform="translate(535.6,787) rotate(-45)">PDIA3</text>
<text transform="translate(567,787) rotate(-45)">CRYBB2P1</text>
<text transform="translate(598.4,787) rotate(-45)">MIEF1</text>
<text transform="translate(629.8,787) rotate(-45)">FBXW5</text>
<text transform="translate(661.2,787) rotate(-45)">YBX1</text>
<text transform="translate(692.6,787) rotate(-45)">HLA-E</text>
<text transform="translate(724,787) rotate(-45)">ZCCHC3</text>
<text transform="translate(755.4,787) rotate(-45)">TSSC4</text>
<text transform="translate(786.8,787) rotate(-45)">CTSD</text>
<text transform="translate(818.2,787) rotate(-45)">PHC2</text>
<text transform="translate(849.6,787) rotate(-45)">ATP6V1B2</text>
<text transform="translate(881,787) rotate(-45)">AP1M1</text>
<text transform="translate(912.4,787) rotate(-45)">28S Ψ 1004</text>
<text transform="translate(943.8,787) rotate(-45)">CKAP4</text>
<text transform="translate(975.2,787) rotate(-45)">ATP5PO</text>
<text transform="translate(1006.6,787) rotate(-45)">ACP1</text>
<text transform="translate(1038,787) rotate(-45)">SNORA8</text>
</g>
<!-- heatmap legends -->
<rect x="1051" y="681" width="32" height="24" fill="url(#virh)"/>
<rect x="1051" y="712" width="32" height="26" fill="url(#ratg)"/>
<rect x="1051" y="745" width="32" height="26" fill="url(#depg)"/>
<g font-size="14" fill="#111">
<text x="1085" y="698">complexity</text>
<text x="1085" y="731">ratio</text>
<text x="1085" y="762">depth</text>
<text x="1044" y="786">low</text>
<text x="1070" y="786">high</text>
</g>
</svg>
</body></html>
